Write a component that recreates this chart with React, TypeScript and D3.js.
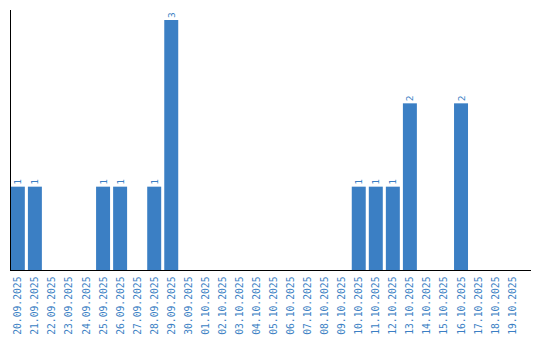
import React from "react";
import * as d3 from "d3";

const categories = [
  "20.09.2025","21.09.2025","22.09.2025","23.09.2025","24.09.2025","25.09.2025","26.09.2025","27.09.2025","28.09.2025","29.09.2025",
  "30.09.2025","01.10.2025","02.10.2025","03.10.2025","04.10.2025","05.10.2025","06.10.2025","07.10.2025","08.10.2025","09.10.2025",
  "10.10.2025","11.10.2025","12.10.2025","13.10.2025","14.10.2025","15.10.2025","16.10.2025","17.10.2025","18.10.2025","19.10.2025",
];
const values = [1,1,0,0,0,1,1,0,1,3, 0,0,0,0,0,0,0,0,0,0, 1,1,1,2,0,0,2,0,0,0];

const W = 540, H = 340;
const left = 10, right = 520, top = 20, bottom = 270;
const barColor = "#3b7fc4";
const textColor = "#3b7fc4";

export default function App() {
  const x = d3.scaleBand<string>().domain(categories).range([left, right]).paddingInner(0.18).paddingOuter(0.05);
  const y = d3.scaleLinear().domain([0, 3]).range([bottom, top]);
  return (
    <svg width={W} height={H} style={{ position: "absolute", left: 0, top: 0 }} fontFamily="'DejaVu Sans Mono', monospace">
      {categories.map((c, i) => {
        const v = values[i];
        const cx = x(c)! + x.bandwidth() / 2;
        return (
          <g key={c}>
            {v > 0 && (
              <>
                <rect x={x(c)!} y={y(v)} width={x.bandwidth()} height={y(0) - y(v)} fill={barColor} />
                <text transform={`translate(${cx + 3.5},${y(v) - 2}) rotate(-90)`} fontSize={9.5} fill={textColor}>{v}</text>
              </>
            )}
            <text transform={`translate(${cx + 3.5},${bottom + 6.5}) rotate(-90)`} textAnchor="end" fontSize={9.7} fill={textColor}>{c}</text>
          </g>
        );
      })}
      <line x1={10.5} x2={10.5} y1={10} y2={bottom} stroke="#000" strokeWidth={1} />
      <line x1={10} x2={531} y1={bottom + 0.5} y2={bottom + 0.5} stroke="#000" strokeWidth={1} />
    </svg>
  );
}
